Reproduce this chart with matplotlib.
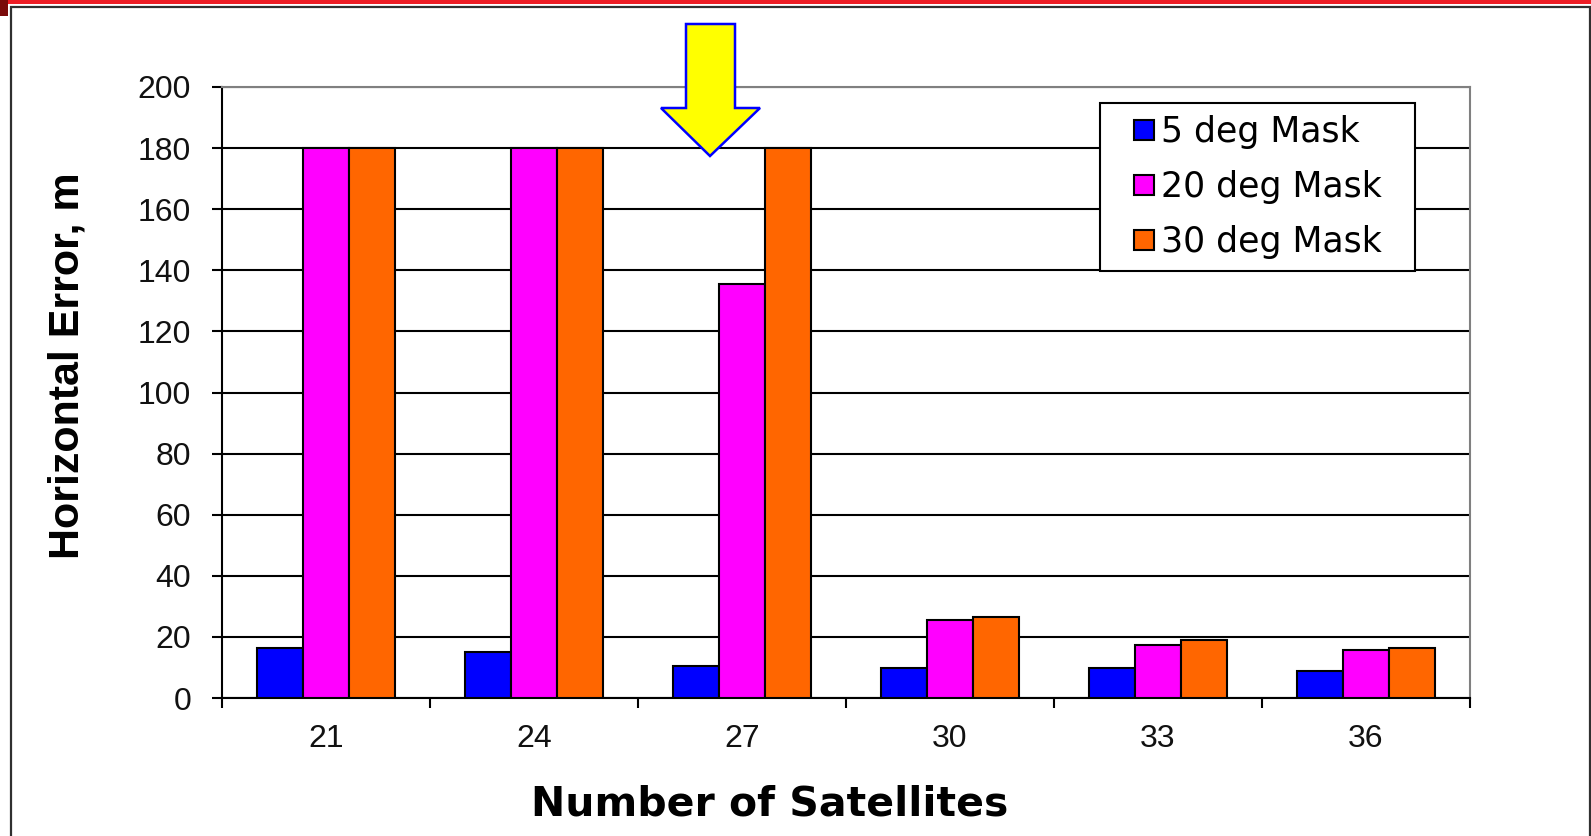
import numpy as np
import matplotlib
matplotlib.use('Agg')
import matplotlib.pyplot as plt
from matplotlib import font_manager
from matplotlib.patches import Rectangle, Polygon
from matplotlib.lines import Line2D

W, H = 1591, 836

satellites = ['21', '24', '27', '30', '33', '36']
mask_labels = ['5 deg Mask', '20 deg Mask', '30 deg Mask']
err_5deg = [16.5, 15.0, 10.5, 9.7, 9.7, 9.0]
err_20deg = [180, 180, 135.5, 25.6, 17.2, 15.7]
err_30deg = [180, 180, 180, 26.4, 19.0, 16.5]
y_ticks = list(range(0, 201, 20))

colors = ['#0000FF', '#FF00FF', '#FF6600']


def fx(x):
    return x / W


def fy(y):
    # pixel row counted from the top -> figure fraction
    return 1 - y / H


fig = plt.figure(figsize=(W / 100, H / 100), dpi=100)
fig.patch.set_facecolor('white')

# slide frame: red band on top, thin dark border
fig.add_artist(Rectangle((0, fy(4)), 1, 4 / H, transform=fig.transFigure,
                         color='#ED1C24', lw=0))
fig.add_artist(Rectangle((0, fy(16)), fx(8), 16 / H, transform=fig.transFigure,
                         color='#7A0A0A', lw=0))
fig.add_artist(Rectangle((fx(11), -0.1), fx(1590 - 11), fy(7) + 0.1,
                         transform=fig.transFigure, fill=False,
                         edgecolor='#303030', lw=1.6, clip_on=False))

ax = fig.add_axes([fx(222), fy(698), fx(1248), 611 / H])

x = np.arange(len(satellites))
bw = 1 / 4.5
for i, (vals, c, lab) in enumerate(zip([err_5deg, err_20deg, err_30deg], colors, mask_labels)):
    ax.bar(x + (i - 1) * bw, vals, bw, color=c, edgecolor='black',
           linewidth=1.5, label=lab, zorder=3)

ax.set_ylim(0, 200)
ax.set_yticks(y_ticks)
ax.set_xlim(-0.5, len(satellites) - 0.5)
ax.set_xticks(np.arange(-0.5, len(satellites), 1))
ax.set_xticklabels([])
ax.set_xticks(x, minor=True)
ax.set_xticklabels(satellites, minor=True)

for lbl in ax.get_yticklabels() + ax.get_xticklabels(minor=True):
    lbl.set_fontfamily('Liberation Sans')
    lbl.set_fontsize(23)
    lbl.set_color('#111111')

ax.tick_params(axis='y', direction='out', length=7.2, width=1.5, pad=15)
ax.tick_params(axis='x', which='major', direction='out', length=7.2, width=1.5)
ax.tick_params(axis='x', which='minor', length=0, pad=19)

ax.yaxis.grid(True, color='black', linewidth=1.5)
ax.set_axisbelow(True)
for side in ['left', 'bottom']:
    ax.spines[side].set_color('black')
    ax.spines[side].set_linewidth(1.5)
for side in ['top', 'right']:
    ax.spines[side].set_color('#808080')
    ax.spines[side].set_linewidth(1.5)

# legend with square markers
handles = [Line2D([], [], ls='none', marker='s', ms=14.5, mfc=c, mec='black', mew=1.5)
           for c in colors]
leg = ax.legend(handles, mask_labels, loc='upper left',
                bbox_to_anchor=((1100 - 222) / 1248, (698 - 268) / 611, 315 / 1248, 165 / 611),
                mode='expand', borderaxespad=0, borderpad=0.35, labelspacing=0.6,
                handlelength=1.835, handleheight=0.7, handletextpad=-0.43,
                fancybox=False, framealpha=1, prop={'family': 'DejaVu Sans', 'size': 25})
leg.get_frame().set_edgecolor('black')
leg.get_frame().set_linewidth(1.5)

# axis titles
try:
    font_manager.findfont('Liberation Sans Narrow', fallback_to_default=False)
    ylab_font, ylab_size = 'Liberation Sans Narrow', 37
except ValueError:
    ylab_font, ylab_size = 'Liberation Sans', 31
fig.text(fx(79), fy(366), 'Horizontal Error, m', rotation=90, rotation_mode='anchor',
         ha='center', va='baseline', fontweight='bold', family=ylab_font,
         size=ylab_size, color='black')
fig.text(fx(770), fy(815), 'Number of Satellites', ha='center', va='baseline',
         fontweight='bold', family='DejaVu Sans', size=29.5, color='black')

# yellow call-out arrow over the 27-satellite group
arrow_px = [(686, 24), (735, 24), (735, 108), (760, 108), (710, 156), (661, 108), (686, 108)]
fig.add_artist(Polygon([(fx(a), fy(b)) for a, b in arrow_px], closed=True,
                       transform=fig.transFigure, facecolor='#FFFF00',
                       edgecolor='#0000FF', lw=1.8))

fig.savefig('out.png', dpi=100)
